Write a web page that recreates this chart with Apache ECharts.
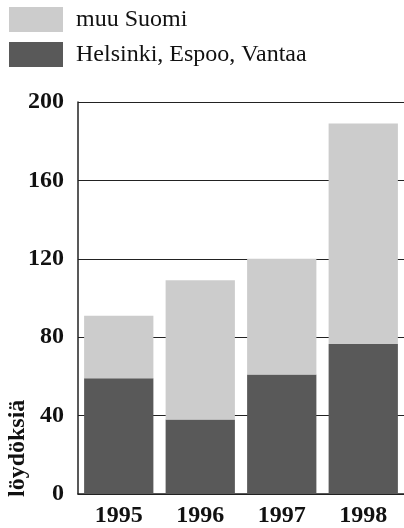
<!DOCTYPE html>
<html>
<head>
<meta charset="utf-8">
<script src="https://cdn.jsdelivr.net/npm/echarts@6/dist/echarts.min.js"></script>
<style>
html,body{margin:0;padding:0;background:#fff;}
#chart{width:404px;height:528px;}
</style>
</head>
<body>
<div id="chart"></div>
<script>
const years = ['1995', '1996', '1997', '1998'];
const helsinkiEspooVantaa = [59, 38, 61, 76.5];
const muuSuomi = [32, 71, 59, 112.5];
const yTicks = [0, 40, 80, 120, 160, 200];
const seriesNames = ['muu Suomi', 'Helsinki, Espoo, Vantaa'];
const yAxisTitle = 'löydöksiä';

const serif = 'Liberation Serif, Times New Roman, Times, serif';
const chart = echarts.init(document.getElementById('chart'), null, {renderer: 'canvas'});
chart.setOption({
  animation: false,
  backgroundColor: '#ffffff',
  legend: {
    orient: 'vertical',
    left: 9,
    top: 7,
    padding: 0,
    itemWidth: 54,
    itemHeight: 25,
    itemGap: 10,
    icon: 'rect',
    data: seriesNames,
    textStyle: {fontFamily: serif, fontSize: 24, color: '#111', padding: [0, 0, 0, 8]}
  },
  grid: {left: 78, right: -6, top: 102, bottom: 34, containLabel: false},
  xAxis: {
    type: 'category',
    data: years,
    axisLine: {show: true, lineStyle: {color: '#222', width: 1.5}},
    axisTick: {show: false},
    axisLabel: {fontFamily: serif, fontWeight: 'bold', fontSize: 24, color: '#111', margin: 10}
  },
  yAxis: {
    type: 'value',
    min: yTicks[0],
    max: yTicks[yTicks.length - 1],
    interval: 40,
    axisLine: {show: true, lineStyle: {color: '#222', width: 1.5}},
    axisTick: {show: false},
    splitLine: {show: true, lineStyle: {color: '#222', width: 1.2}},
    axisLabel: {fontFamily: serif, fontWeight: 'bold', fontSize: 24, color: '#111', margin: 14}
  },
  graphic: [{
    type: 'text',
    left: 6,
    bottom: 31,
    rotation: Math.PI / 2,
    style: {text: yAxisTitle, fontFamily: serif, fontWeight: 'bold', fontSize: 24, fill: '#111'}
  }],
  series: [
    {
      name: seriesNames[1],
      type: 'bar',
      stack: 'total',
      barCategoryGap: '15%',
      itemStyle: {color: '#595959'},
      data: helsinkiEspooVantaa
    },
    {
      name: seriesNames[0],
      type: 'bar',
      stack: 'total',
      barCategoryGap: '15%',
      itemStyle: {color: '#cccccc'},
      data: muuSuomi
    }
  ]
});
</script>
</body>
</html>
